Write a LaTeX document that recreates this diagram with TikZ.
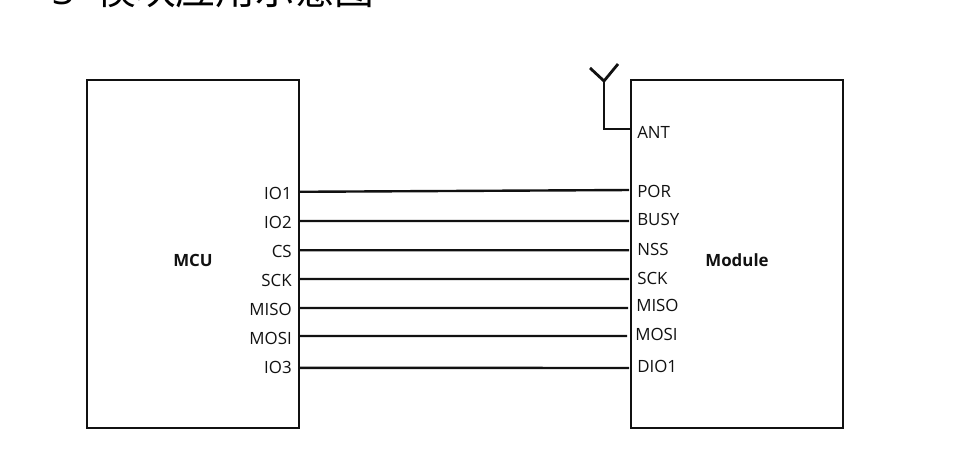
\documentclass[tikz,border=0pt]{standalone}
\usepackage{fontspec}
\setmainfont{Open Sans}
\newfontfamily\cjkfont{Noto Sans CJK SC}
\usepackage{xcolor}
\usetikzlibrary{positioning}
\definecolor{ink}{HTML}{111111}

\begin{document}
\begin{tikzpicture}[
 chip/.style={draw=ink,line width=.035cm,minimum width=5.3cm,minimum height=8.7cm},
 chipname/.style={inner sep=0pt,text=ink,font=\fontsize{12}{14}\selectfont\bfseries},
 pinl/.style={inner xsep=.2cm,inner ysep=1pt,anchor=east,text=ink,font=\fontsize{12}{14}\selectfont},
 pinr/.style={inner xsep=.15cm,inner ysep=1pt,anchor=west,text=ink,font=\fontsize{12}{14}\selectfont},
 wire/.style={draw=ink,line width=.06cm,shorten >=.05cm}
]
\clip (0,0) rectangle (23.85,11.425);
% heading, cut off by the page top
\node[anchor=base west,inner sep=0pt,font=\fontsize{28.3}{31}\selectfont\cjkfont] (title) at (2.4,11.32) {模块应用示意图};
\node[anchor=base west,inner sep=0pt,font=\fontsize{28}{30}\selectfont] (num) at (1.3,11.32) {3};
% the two chips
\node[chip] (MCU) at (4.825,5.075) {};
\node[chip] (Module) at (18.425,5.075) {};
\node[chipname] (MCUname) at (4.825,4.925) {MCU};
\node[chipname] (Modulename) at (18.425,4.925) {Module};
% MCU pins
\node[pinl] (IO1) at (7.5,6.6) {IO1};
\node[pinl] (IO2) at (7.5,5.875) {IO2};
\node[pinl] (CS) at (7.5,5.15) {CS};
\node[pinl] (SCKa) at (7.5,4.425) {SCK};
\node[pinl] (MISOa) at (7.5,3.7) {MISO};
\node[pinl] (MOSIa) at (7.5,2.975) {MOSI};
\node[pinl] (IO3) at (7.5,2.25) {IO3};
% Module pins
\node[pinr] (ANT) at (15.775,8.125) {ANT};
\node[pinr] (POR) at (15.775,6.65) {POR};
\node[pinr] (BUSY) at (15.775,5.95) {BUSY};
\node[pinr] (NSS) at (15.775,5.2) {NSS};
\node[pinr] (SCKb) at (15.775,4.475) {SCK};
\node[pinr] (MISOb) at (15.75,3.8) {MISO};
\node[pinr] (MOSIb) at (15.725,3.075) {MOSI};
\node[pinr] (DIO1) at (15.775,2.275) {DIO1};
% bus between the chips
\draw[wire] ([yshift=.03cm]IO1.east) -- ([yshift=.025cm]POR.west);
\draw[wire] ([yshift=.025cm]IO2.east) -- ([yshift=-.05cm]BUSY.west);
\draw[wire] ([yshift=.02cm]CS.east) -- ([yshift=-.03cm]NSS.west);
\draw[wire] ([yshift=.025cm]SCKa.east) -- ([yshift=-.025cm]SCKb.west);
\draw[wire] ([yshift=.025cm]MISOa.east) -- ([yshift=-.075cm]MISOb.west);
\draw[wire] ([yshift=.05cm]MOSIa.east) -- ([yshift=-.05cm]MOSIb.west);
\draw[wire] ([yshift=-.02cm]IO3.east) -- ([yshift=-.05cm]DIO1.west);
% antenna
\coordinate (feed) at (15.1,9.4);
\coordinate (armL) at (14.75,9.725);
\coordinate (armR) at (15.45,9.825);
\draw[draw=ink,line width=.07cm] (armL) -- (feed) -- (armR);
\draw[draw=ink,line width=.07cm] (feed) |- ([yshift=.075cm]ANT.west);
\end{tikzpicture}
\end{document}
